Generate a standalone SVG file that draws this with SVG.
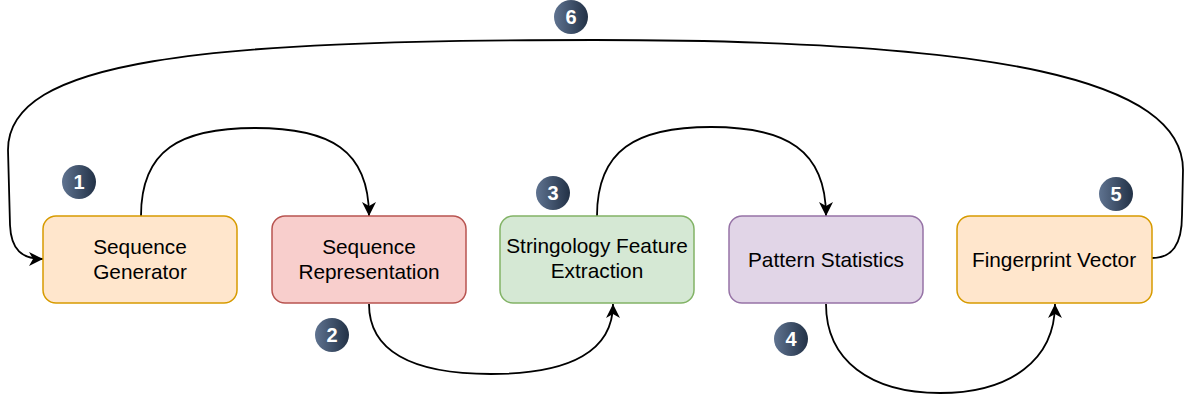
<svg xmlns="http://www.w3.org/2000/svg" width="1187" height="399" viewBox="0 0 1187 399">
  <defs>
    <linearGradient id="badgeGrad" x1="0" y1="0" x2="1" y2="0">
      <stop offset="0" stop-color="#5f7390"/>
      <stop offset="1" stop-color="#223146"/>
    </linearGradient>
    <marker id="arrow" markerUnits="userSpaceOnUse" markerWidth="16" markerHeight="16" refX="14" refY="7" orient="auto">
      <path d="M0,0 L14,7 L0,14 L4,7 Z" fill="#000"/>
    </marker>
  </defs>
  <style>
    .box { stroke-width: 1.5; }
    .lbl { font-family: "Liberation Sans", Arial, sans-serif; font-size: 20.8px; fill: #000; text-anchor: middle; }
    .edge { fill: none; stroke: #000; stroke-width: 1.8; marker-end: url(#arrow); }
    .badge { fill: url(#badgeGrad); }
    .num { font-family: "Liberation Sans", Arial, sans-serif; font-size: 20px; font-weight: bold; fill: #fff; text-anchor: middle; }
  </style>
  <rect width="1187" height="399" fill="#fff"/>

  <g id="connectors">
    <path class="edge" d="M141,216 C141,150 180,128 255,128 C330,128 369,150 369,216"/>
    <path class="edge" d="M369,304 C369,350 410,374 491,374 C572,374 613,350 613,304"/>
    <path class="edge" d="M597,216 C597,150 636,127 711,127 C786,127 826,150 826,216"/>
    <path class="edge" d="M826,304 C826,360 870,393 940,393 C1010,393 1055,360 1055,304"/>
    <path class="edge" d="M1152,258 C1172,258 1182,245 1182,215 L1183,170 C1183,80 1000,40 594,40 C200,40 8,60 8,150 L10,225 C11,250 22,259 43,259"/>
  </g>

  <g id="node-sequence-generator">
    <rect class="box" x="43" y="216" width="194" height="87" rx="13" fill="#ffe6cc" stroke="#d79b00"/>
    <text class="lbl" x="140" y="254">Sequence</text>
    <text class="lbl" x="140" y="279">Generator</text>
  </g>
  <g id="node-sequence-representation">
    <rect class="box" x="272" y="216" width="194" height="87" rx="13" fill="#f8cecc" stroke="#b85450"/>
    <text class="lbl" x="369" y="254">Sequence</text>
    <text class="lbl" x="369" y="279">Representation</text>
  </g>
  <g id="node-stringology">
    <rect class="box" x="500" y="216" width="194" height="87" rx="13" fill="#d5e8d4" stroke="#82b366"/>
    <text class="lbl" x="597" y="253">Stringology Feature</text>
    <text class="lbl" x="597" y="278">Extraction</text>
  </g>
  <g id="node-pattern-statistics">
    <rect class="box" x="729" y="216" width="194" height="87" rx="13" fill="#e1d5e7" stroke="#9673a6"/>
    <text class="lbl" x="826" y="267">Pattern Statistics</text>
  </g>
  <g id="node-fingerprint-vector">
    <rect class="box" x="957" y="216" width="195" height="87" rx="13" fill="#ffe6cc" stroke="#d79b00"/>
    <text class="lbl" x="1054" y="267">Fingerprint Vector</text>
  </g>

  <g id="badge-1"><circle class="badge" cx="79" cy="182" r="17"/><text class="num" x="79" y="189">1</text></g>
  <g id="badge-2"><circle class="badge" cx="332" cy="335" r="17"/><text class="num" x="332" y="342">2</text></g>
  <g id="badge-3"><circle class="badge" cx="553" cy="193" r="17"/><text class="num" x="553" y="200">3</text></g>
  <g id="badge-4"><circle class="badge" cx="791" cy="339" r="17"/><text class="num" x="791" y="346">4</text></g>
  <g id="badge-5"><circle class="badge" cx="1116" cy="194" r="17"/><text class="num" x="1116" y="201">5</text></g>
  <g id="badge-6"><circle class="badge" cx="571" cy="17" r="17"/><text class="num" x="571" y="24">6</text></g>
</svg>
